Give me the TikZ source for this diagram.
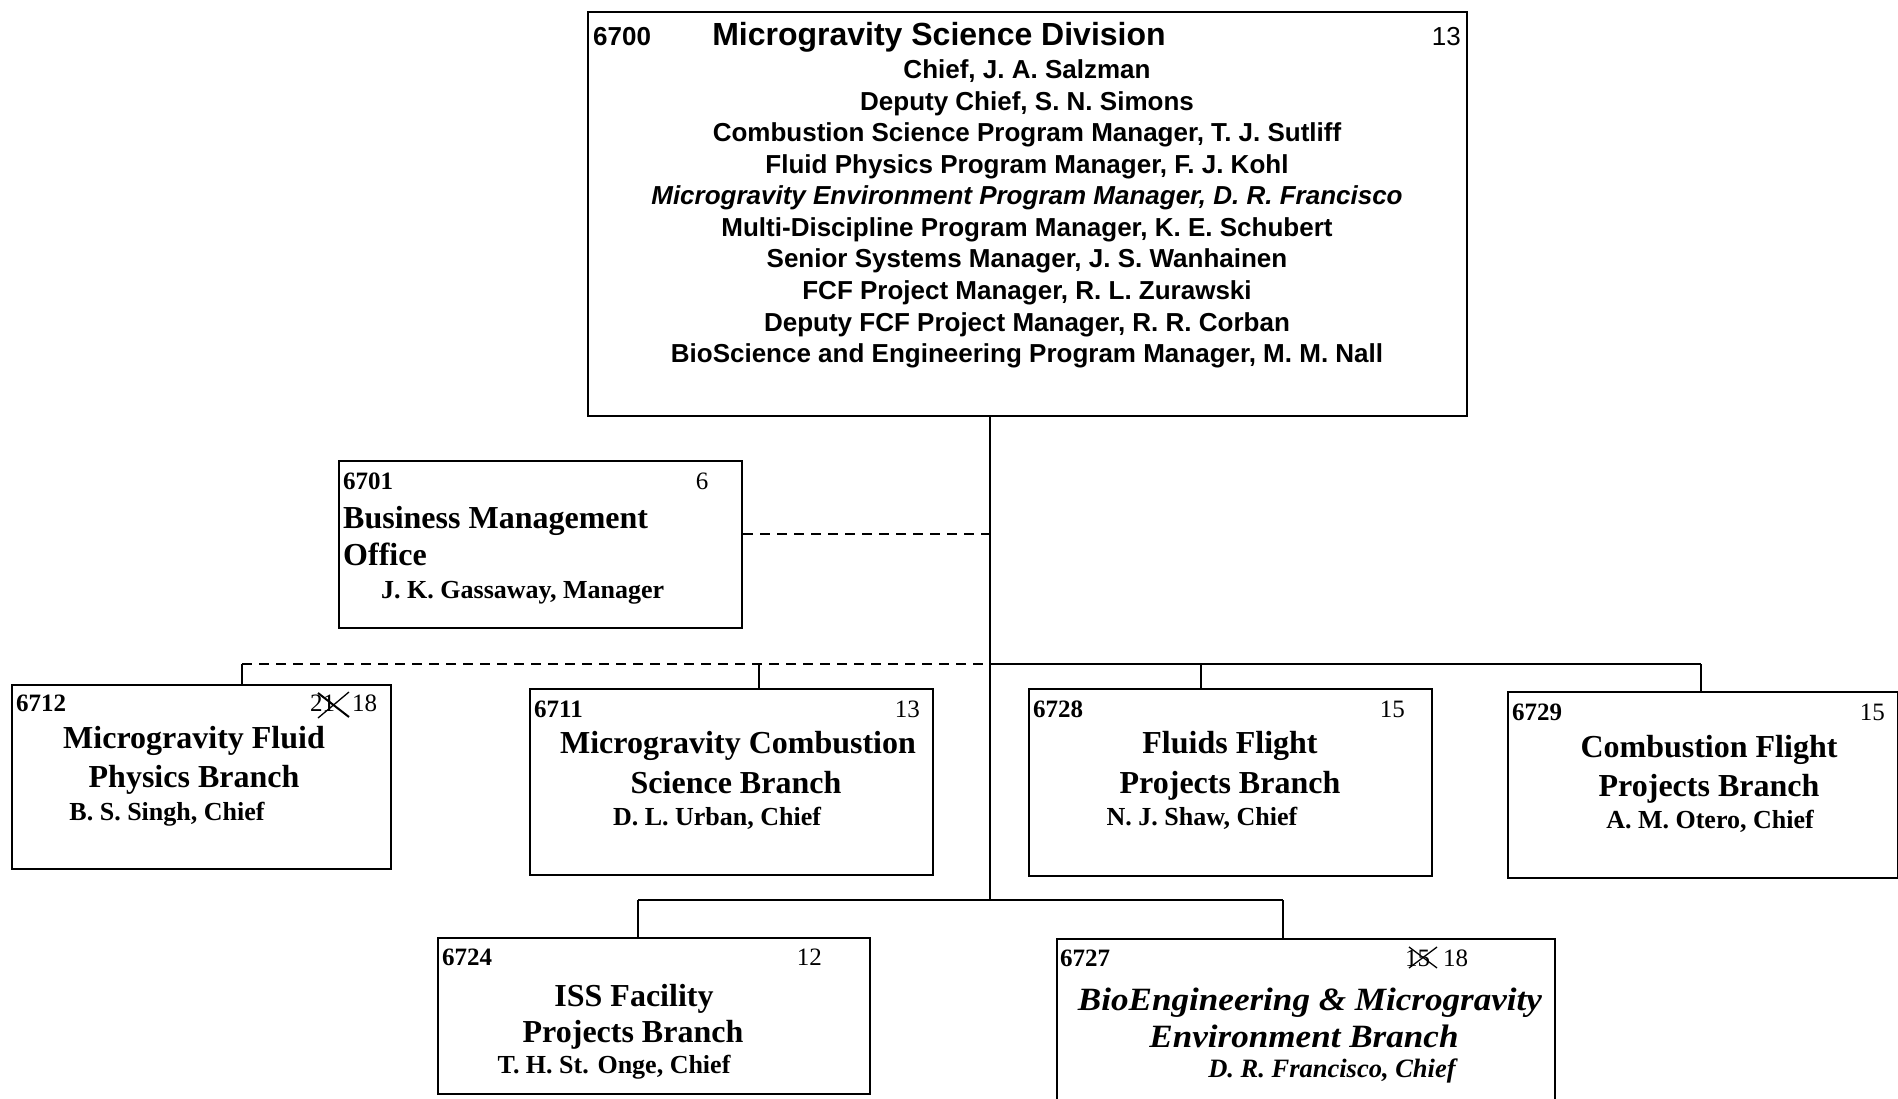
\documentclass[tikz,border=0pt]{standalone}
\usepackage{fontspec}
\setmainfont{Liberation Serif}
\newfontfamily\arialf{Liberation Sans}
\newfontfamily\wideitf[FakeStretch=1.08]{Liberation Serif}
\begin{document}
\begin{tikzpicture}[x=1pt,y=-1pt,
  box/.style={draw, line width=2pt, inner sep=0pt, anchor=north west},
  conn/.style={line width=1.6pt},
  dconn/.style={line width=1.6pt, dash pattern=on 10pt off 7pt},
  lbl/.style={inner sep=0pt, anchor=base},
  atitle/.style={lbl, font=\arialf\bfseries\fontsize{32}{38}\selectfont},
  aline/.style={lbl, font=\arialf\bfseries\fontsize{26}{31}\selectfont},
  aital/.style={lbl, font=\arialf\bfseries\itshape\fontsize{26}{31}\selectfont},
  anum/.style={lbl, font=\arialf\fontsize{26}{31}\selectfont},
  bname/.style={lbl, font=\bfseries\fontsize{32}{38}\selectfont},
  biname/.style={lbl, font=\wideitf\bfseries\itshape\fontsize{32.5}{38}\selectfont},
  bchief/.style={lbl, font=\bfseries\fontsize{26}{31}\selectfont},
  bichief/.style={lbl, font=\bfseries\itshape\fontsize{26.5}{31}\selectfont},
  bcode/.style={lbl, anchor=base west, font=\bfseries\fontsize{25}{30}\selectfont},
  bcount/.style={lbl, font=\fontsize{25}{30}\selectfont},
  xmark/.style={line width=1.3pt}
]
\useasboundingbox (0,0) rectangle (1898,1099);
\clip (0,0) rectangle (1898,1099);

% ---------- boxes ----------
\node[box, minimum width=879pt, minimum height=404pt] (top) at (587,11) {};
\node[box, minimum width=403pt, minimum height=167pt] (bmo) at (338,460) {};
\node[box, minimum width=379pt, minimum height=184pt] (b6712) at (11,684) {};
\node[box, minimum width=403pt, minimum height=186pt] (b6711) at (529,688) {};
\node[box, minimum width=403pt, minimum height=187pt] (b6728) at (1028,688) {};
\node[box, minimum width=390pt, minimum height=186pt] (b6729) at (1507,691) {};
\node[box, minimum width=432pt, minimum height=156pt] (b6724) at (437,937) {};
\node[box, minimum width=498pt, minimum height=190pt] (b6727) at (1056,938) {};

% ---------- junction coordinates ----------
\coordinate (jB) at (990,534);
\coordinate (jU) at (990,664);
\coordinate (jL) at (990,900);
\coordinate (u1) at (242,664);
\coordinate (u2) at (759,664);
\coordinate (u3) at (1201,664);
\coordinate (u4) at (1701,664);
\coordinate (l1) at (638,900);
\coordinate (l2) at (1283,900);

% ---------- connectors ----------
\draw[conn] (top.south -| jL) -- (jL);
\draw[dconn] (bmo.east |- jB) -- (jB);
\draw[dconn] (u1) -- (jU);
\draw[conn] (jU) -- (u4);
\draw[conn] (u1) -- (u1 |- b6712.north);
\draw[conn] (u2) -- (u2 |- b6711.north);
\draw[conn] (u3) -- (u3 |- b6728.north);
\draw[conn] (u4) -- (u4 |- b6729.north);
\draw[conn] (l1) -- (l2);
\draw[conn] (l1) -- (l1 |- b6724.north);
\draw[conn] (l2) -- (l2 |- b6727.north);

% ---------- top box text ----------
\node[aline, anchor=base west] (c6700) at (593,46) {6700};
\node[atitle] (t6700) at (939,46) {Microgravity Science Division};
\node[anum, anchor=base east] (n6700) at (1461,46) {13};
\node[aline] (r1) at (1027,79) {Chief, J. A. Salzman};
\node[aline] (r2) at (1027,111) {Deputy Chief, S. N. Simons};
\node[aline] (r3) at (1027,142) {Combustion Science Program Manager, T. J. Sutliff};
\node[aline] (r4) at (1027,174) {Fluid Physics Program Manager, F. J. Kohl};
\node[aital] (r5) at (1027,205) {Microgravity Environment Program Manager, D. R. Francisco};
\node[aline] (r6) at (1027,237) {Multi-Discipline Program Manager, K. E. Schubert};
\node[aline] (r7) at (1027,268) {Senior Systems Manager, J. S. Wanhainen};
\node[aline] (r8) at (1027,300) {FCF Project Manager, R. L. Zurawski};
\node[aline] (r9) at (1027,331) {Deputy FCF Project Manager, R. R. Corban};
\node[aline] (r10) at (1027,362) {BioScience and Engineering Program Manager, M. M. Nall};

% ---------- business management office ----------
\node[bcode] (c6701) at (343,489) {6701};
\node[bcount] (n6701) at (702,489) {6};
\node[bname, anchor=base west] (t6701a) at (343,528) {Business Management};
\node[bname, anchor=base west] (t6701b) at (343,565) {Office};
\node[bchief, anchor=base west] (h6701) at (381,598) {J. K. Gassaway, Manager};

% ---------- 6712 ----------
\node[bcode] (c6712) at (16,711) {6712};
\node[bcount, anchor=base west] (n6712) at (310,711) {21\kern17pt 18};
\draw[line width=2pt] (318,693) -- (349,717);
\draw[xmark] (349,692) -- (318,718);
\node[bname] (t6712a) at (194,748) {Microgravity Fluid};
\node[bname] (t6712b) at (194,787) {Physics Branch};
\node[bchief] (h6712) at (167,820) {B. S. Singh, Chief};

% ---------- 6711 ----------
\node[bcode] (c6711) at (534,717) {6711};
\node[bcount, anchor=base east] (n6711) at (920,717) {13};
\node[bname] (t6711a) at (738,753) {Microgravity Combustion};
\node[bname] (t6711b) at (736,793) {Science Branch};
\node[bchief] (h6711) at (717,825) {D. L. Urban, Chief};

% ---------- 6728 ----------
\node[bcode] (c6728) at (1033,717) {6728};
\node[bcount, anchor=base east] (n6728) at (1405,717) {15};
\node[bname] (t6728a) at (1230,753) {Fluids Flight};
\node[bname] (t6728b) at (1230,793) {Projects Branch};
\node[bchief] (h6728) at (1202,825) {N. J. Shaw, Chief};

% ---------- 6729 ----------
\node[bcode] (c6729) at (1512,720) {6729};
\node[bcount, anchor=base east] (n6729) at (1885,720) {15};
\node[bname] (t6729a) at (1709,757) {Combustion Flight};
\node[bname] (t6729b) at (1709,796) {Projects Branch};
\node[bchief] (h6729) at (1710,828) {A. M. Otero, Chief};

% ---------- 6724 ----------
\node[bcode] (c6724) at (442,965) {6724};
\node[bcount, anchor=base east] (n6724) at (822,965) {12};
\node[bname] (t6724a) at (634,1006) {ISS Facility};
\node[bname] (t6724b) at (633,1042) {Projects Branch};
\node[bchief] (h6724) at (614,1073) {T. H. St. Onge, Chief};

% ---------- 6727 ----------
\node[bcode] (c6727) at (1060,966) {6727};
\node[bcount, anchor=base west] (n6727) at (1405,966) {15\kern13pt 18};
\draw[xmark] (1409,947) -- (1437,968);
\draw[xmark] (1409,968) -- (1437,947);
\node[biname] (t6727a) at (1310,1010) {BioEngineering \& Microgravity};
\node[biname] (t6727b) at (1304,1047) {Environment Branch};
\node[bichief] (h6727) at (1332,1077) {D. R. Francisco, Chief};
\end{tikzpicture}
\end{document}
